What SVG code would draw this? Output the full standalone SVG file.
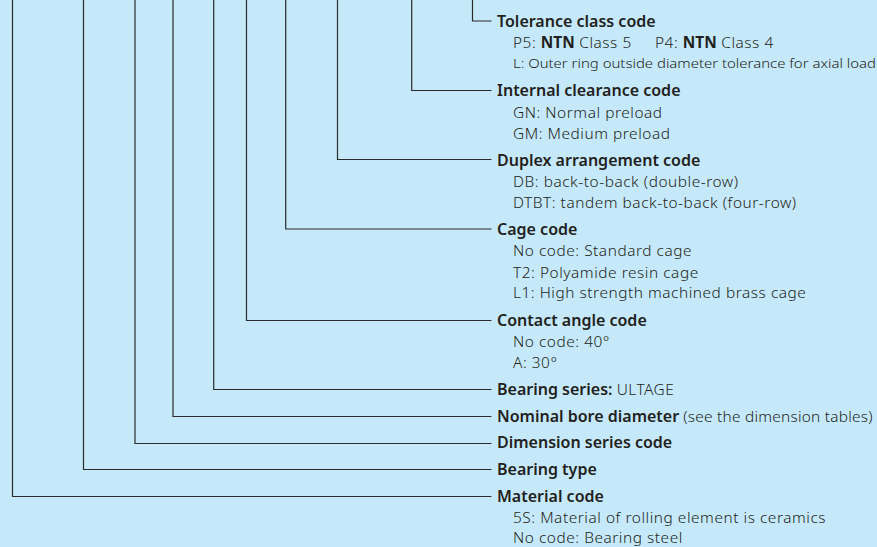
<svg xmlns="http://www.w3.org/2000/svg" width="877" height="547" viewBox="0 0 877 547">
<style>
.bg{fill:#c6e9f9}
.ln{fill:none;stroke:#2b2b2b;stroke-width:1.2}
.t{font-family:"Noto Sans","Open Sans",sans-serif;font-size:16px;font-weight:600;fill:#231f20}
.s{font-family:"Noto Sans","Open Sans",sans-serif;font-size:15.4px;font-weight:300;letter-spacing:0.55px;fill:#231f20}
.b{font-weight:700;letter-spacing:0}
.n{font-weight:300;font-size:15.4px;letter-spacing:0.5px}
.sm{font-size:13.2px;letter-spacing:0}
</style>
<rect class="bg" x="0" y="0" width="877" height="547"/>
<g id="connectors">
<path class="ln" d="M472.5 0V21H491.5"/>
<path class="ln" d="M411.7 0V90.5H491.5"/>
<path class="ln" d="M337.5 0V159.5H491.5"/>
<path class="ln" d="M285.7 0V229H491.5"/>
<path class="ln" d="M246.5 0V320.5H491.5"/>
<path class="ln" d="M213.7 0V389.5H491.5"/>
<path class="ln" d="M173 0V416.5H491.5"/>
<path class="ln" d="M135 0V443.5H491.5"/>
<path class="ln" d="M83.5 0V469.5H491.5"/>
<path class="ln" d="M12.5 0V496.5H491.5"/>
</g>
<g id="tolerance">
<text class="t" x="497" y="26.5">Tolerance class code</text>
<text class="s" x="513" y="47.7">P5: <tspan class="b">NTN</tspan> Class 5<tspan x="655">P4: </tspan><tspan class="b">NTN</tspan> Class 4</text>
<text class="s sm" x="513" y="68.3" textLength="363" lengthAdjust="spacingAndGlyphs">L: Outer ring outside diameter tolerance for axial load</text>
</g>
<g id="clearance">
<text class="t" x="497" y="95.7">Internal clearance code</text>
<text class="s" x="513" y="118">GN: Normal preload</text>
<text class="s" x="513" y="139">GM: Medium preload</text>
</g>
<g id="duplex">
<text class="t" x="497" y="166">Duplex arrangement code</text>
<text class="s" x="513" y="186.7">DB: back-to-back (double-row)</text>
<text class="s" x="513" y="207.7">DTBT: tandem back-to-back (four-row)</text>
</g>
<g id="cage">
<text class="t" x="497" y="235">Cage code</text>
<text class="s" x="513" y="256">No code: Standard cage</text>
<text class="s" x="513" y="277.5">T2: Polyamide resin cage</text>
<text class="s" x="513" y="298.3">L1: High strength machined brass cage</text>
</g>
<g id="contact-angle">
<text class="t" x="497" y="326">Contact angle code</text>
<text class="s" x="513" y="346.7">No code: 40°</text>
<text class="s" x="513" y="367.7">A: 30°</text>
</g>
<g id="series">
<text class="t" x="497" y="395">Bearing series: <tspan class="n">ULTAGE</tspan></text>
</g>
<g id="bore">
<text class="t" x="497" y="421.7">Nominal bore diameter <tspan class="n" style="letter-spacing:0.25px">(see the dimension tables)</tspan></text>
</g>
<g id="dimension">
<text class="t" x="497" y="448.3">Dimension series code</text>
</g>
<g id="type">
<text class="t" x="497" y="475">Bearing type</text>
</g>
<g id="material">
<text class="t" x="497" y="501.7">Material code</text>
<text class="s" x="513" y="522.7">5S: Material of rolling element is ceramics</text>
<text class="s" x="513" y="543.3">No code: Bearing steel</text>
</g>
</svg>
